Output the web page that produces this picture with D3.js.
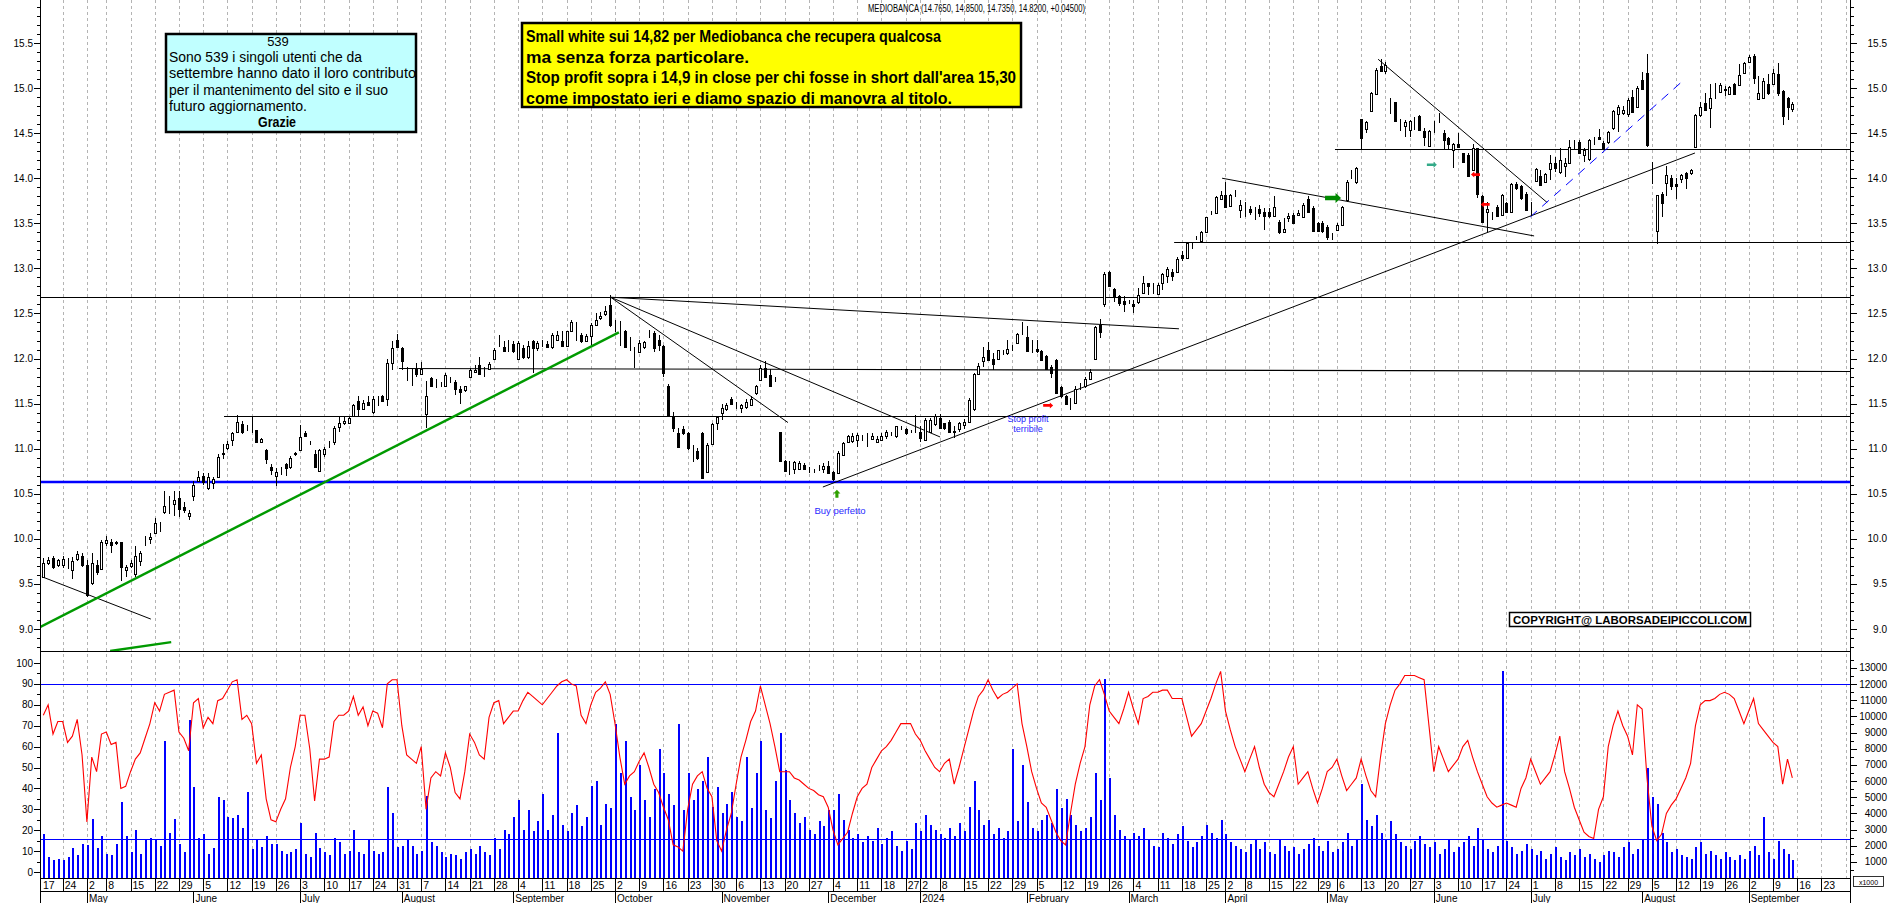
<!DOCTYPE html>
<html>
<head>
<meta charset="utf-8">
<script src="https://cdn.jsdelivr.net/npm/d3@7"></script>
<style>
  body { margin: 0; background: #fff; }
  svg { display: block; }
  text { font-family: "Liberation Sans", Arial, sans-serif; }
</style>
</head>
<body>
<svg id="chart" width="1890" height="903"></svg>
<script>
// ---- data ----
const firstDay = "2023-04-17";
const lastDay = "2024-10-04";
const holidays = ["2023-05-01", "2023-12-25", "2023-12-26", "2024-01-01", "2024-03-29", "2024-04-01", "2024-05-01"];
const monthNames = ["January", "February", "March", "April", "May", "June", "July", "August", "September", "October", "November", "December"];

// daily candles from 18 April 2023
const opens = [9.58,9.73,9.79,9.71,9.71,9.73,9.65,9.78,9.81,9.71,9.51,9.71,9.66,9.95,9.97,9.96,9.96,9.65,9.70,9.61,9.75,9.93,10.00,10.06,10.16,10.30,10.39,10.39,10.45,10.35,10.25,10.47,10.64,10.70,10.56,10.62,10.69,10.94,11.01,11.10,11.19,11.27,11.23,11.20,11.21,11.07,10.99,10.80,10.70,10.77,10.83,10.80,10.95,10.99,11.17,11.05,10.94,10.75,10.94,11.03,11.07,11.24,
11.28,11.28,11.36,11.53,11.44,11.52,11.41,11.57,11.58,11.55,11.95,12.21,12.12,11.87,11.85,11.88,11.83,11.39,11.78,11.73,11.71,11.70,11.76,11.74,11.66,11.65,11.80,11.85,11.93,11.82,11.88,11.99,12.15,12.13,12.09,12.16,12.00,12.12,12.02,12.20,12.12,12.16,12.16,12.13,12.21,12.19,12.14,12.30,12.30,12.26,12.19,12.25,12.37,12.45,12.49,12.59,12.31,12.24,12.31,12.15,12.05,12.07,12.13,
12.28,12.28,12.21,12.14,11.70,11.36,11.17,11.22,11.17,10.99,10.97,11.17,10.74,11.05,11.29,11.40,11.44,11.55,11.50,11.45,11.46,11.49,11.62,11.76,11.89,11.82,11.76,11.19,10.86,10.84,10.77,10.77,10.82,10.77,10.76,10.77,10.77,10.81,10.74,10.73,10.93,11.07,11.08,11.10,11.12,11.15,11.11,11.07,11.10,11.14,11.15,11.14,11.23,11.22,11.19,11.21,11.19,11.10,11.18,11.27,11.34,11.28,11.30,
11.19,11.22,11.26,11.30,
11.44,11.83,11.97,12.09,11.99,11.99,12.07,12.06,12.13,12.17,12.29,12.24,12.14,12.11,12.08,12.03,11.91,11.98,11.68,11.59,11.50,11.51,11.69,11.69,11.77,12.00,12.37,12.61,12.96,12.77,12.69,12.64,12.61,12.61,12.63,12.73,12.84,12.82,12.72,12.84,12.91,12.96,12.96,13.15,13.11,13.26,13.33,13.30,13.40,13.61,13.61,13.77,13.81,13.69,13.80,13.65,13.69,13.66,13.65,
13.66,13.63,13.63,13.58,13.52,13.40,13.56,13.59,13.59,13.57,13.77,13.67,13.50,13.50,13.46,13.35,13.43,13.48,13.76,14.01,13.96,14.66,14.55,14.75,14.93,15.25,15.19,14.84,14.85,14.65,14.58,14.54,14.68,14.69,14.52,14.36,14.52,14.63,14.50,14.45,14.31,14.38,14.28,14.26,14.09,14.33,13.80,13.62,13.58,13.68,13.59,13.72,13.63,13.94,13.91,13.83,13.71,13.97,14.02,13.96,14.10,14.17,14.07,
14.14,14.17,14.39,14.40,14.26,14.21,14.40,14.46,14.39,14.40,14.56,14.71,14.72,14.71,14.90,14.79,15.09,15.17,14.07,13.42,13.83,13.95,14.00,13.94,13.99,14.06,14.06,14.35,14.70,14.84,14.78,14.90,14.96,14.99,14.93,15.05,15.03,15.17,15.29,15.36,14.88,14.89,15.05,15.05,15.16,14.97,14.89,14.765];
const highs = [9.79,9.80,9.81,9.78,9.81,9.79,9.80,9.86,9.84,9.77,9.84,9.77,9.99,10.03,10.00,9.98,9.97,9.71,9.77,9.92,9.86,10.03,10.06,10.23,10.19,10.53,10.47,10.53,10.53,10.41,10.32,10.64,10.75,10.73,10.73,10.69,10.94,11.05,11.08,11.19,11.37,11.31,11.26,11.35,11.21,11.12,11.00,10.83,10.79,10.80,10.84,10.92,10.96,11.26,11.20,11.09,10.99,11.00,11.02,11.08,11.25,11.36,
11.36,11.36,11.50,11.58,11.54,11.58,11.58,11.58,11.60,11.99,12.19,12.27,12.13,11.91,11.89,11.95,11.96,11.75,11.80,11.77,11.74,11.84,11.80,11.76,11.69,11.70,11.89,11.93,12.02,11.91,11.96,12.12,12.26,12.19,12.21,12.19,12.19,12.15,12.19,12.21,12.19,12.21,12.19,12.28,12.30,12.30,12.31,12.43,12.41,12.28,12.27,12.39,12.50,12.52,12.58,12.70,12.43,12.42,12.32,12.24,12.13,12.21,12.20,
12.32,12.30,12.26,12.15,11.72,11.41,11.23,11.25,11.18,11.04,11.01,11.19,11.06,11.28,11.36,11.50,11.51,11.57,11.52,11.50,11.55,11.58,11.71,11.93,11.97,11.88,11.80,11.19,10.88,10.86,10.86,10.86,10.84,10.80,10.78,10.82,10.84,10.86,10.75,10.97,11.07,11.15,11.17,11.17,11.15,11.17,11.17,11.14,11.17,11.21,11.19,11.25,11.25,11.23,11.21,11.37,11.25,11.34,11.34,11.39,11.39,11.29,11.32,
11.25,11.30,11.33,11.56,
11.84,11.95,12.13,12.18,12.06,12.10,12.10,12.21,12.15,12.28,12.41,12.36,12.21,12.21,12.10,12.04,11.93,11.99,11.69,11.60,11.56,11.69,11.73,11.80,11.88,12.36,12.44,12.96,12.97,12.78,12.70,12.69,12.65,12.65,12.78,12.91,12.84,12.84,12.84,12.95,13.02,12.99,13.13,13.19,13.29,13.29,13.36,13.41,13.57,13.64,13.80,13.86,13.96,13.83,13.87,13.76,13.74,13.69,13.68,
13.70,13.67,13.67,13.80,13.54,13.56,13.61,13.61,13.65,13.72,13.80,13.69,13.52,13.53,13.48,13.39,13.50,13.69,13.98,14.09,14.12,14.66,14.63,14.96,15.22,15.32,15.29,14.89,14.85,14.66,14.65,14.65,14.68,14.70,14.56,14.54,14.63,14.72,14.54,14.46,14.39,14.50,14.28,14.28,14.38,14.34,13.81,13.74,13.63,13.70,13.83,13.74,13.95,13.96,13.93,13.85,13.74,14.11,14.09,14.06,14.26,14.24,14.34,
14.22,14.42,14.42,14.42,14.33,14.43,14.46,14.55,14.41,14.52,14.76,14.81,14.80,14.89,14.98,15.02,15.18,15.38,14.18,13.81,13.85,14.14,14.04,14.00,14.05,14.07,14.10,14.71,14.85,14.95,15.05,15.06,15.06,15.02,15.02,15.06,15.27,15.29,15.37,15.38,15.13,15.11,15.16,15.21,15.28,14.98,14.90,14.85];
const lows = [9.57,9.71,9.67,9.69,9.68,9.67,9.55,9.75,9.69,9.36,9.49,9.60,9.66,9.92,9.84,9.93,9.53,9.58,9.68,9.58,9.70,9.92,9.94,10.05,10.08,10.28,10.28,10.25,10.24,10.29,10.21,10.42,10.63,10.60,10.54,10.55,10.67,10.89,10.99,11.03,11.17,11.16,11.20,11.17,11.06,11.06,10.83,10.71,10.59,10.71,10.70,10.77,10.92,10.99,11.13,11.04,10.79,10.74,10.91,11.01,11.04,11.19,
11.26,11.28,11.35,11.36,11.43,11.47,11.38,11.47,11.52,11.47,11.87,12.12,11.87,11.75,11.69,11.80,11.82,11.23,11.68,11.67,11.68,11.69,11.73,11.60,11.50,11.63,11.78,11.84,11.82,11.80,11.87,11.98,12.13,12.07,12.07,12.06,11.98,12.00,12.00,11.84,12.08,12.13,12.12,12.11,12.19,12.13,12.13,12.29,12.19,12.17,12.18,12.15,12.36,12.43,12.47,12.35,12.29,12.14,12.13,12.08,11.89,12.06,12.11,
12.23,12.07,12.08,11.80,11.35,11.19,11.02,11.15,10.99,10.85,10.88,10.66,10.73,11.04,11.21,11.32,11.42,11.50,11.44,11.40,11.44,11.48,11.60,11.76,11.78,11.69,11.74,10.85,10.74,10.71,10.72,10.76,10.76,10.73,10.73,10.75,10.73,10.72,10.64,10.72,10.92,11.06,11.06,11.02,11.09,11.02,11.10,11.06,11.08,11.11,11.14,11.12,11.21,11.15,11.17,11.17,11.07,11.09,11.17,11.25,11.22,11.21,11.17,
11.12,11.18,11.22,11.28,
11.42,11.82,11.91,11.97,11.87,11.98,12.04,12.04,12.08,12.16,12.26,12.07,12.06,12.06,11.97,11.87,11.78,11.62,11.56,11.48,11.43,11.50,11.65,11.67,11.76,11.99,12.23,12.57,12.80,12.63,12.58,12.52,12.60,12.50,12.61,12.72,12.71,12.72,12.70,12.76,12.84,12.86,12.95,13.08,13.10,13.21,13.31,13.29,13.39,13.59,13.60,13.76,13.67,13.69,13.79,13.56,13.57,13.59,13.54,
13.57,13.43,13.56,13.57,13.38,13.39,13.52,13.49,13.58,13.56,13.62,13.40,13.40,13.39,13.32,13.32,13.43,13.47,13.74,13.99,13.94,14.31,14.50,14.74,14.92,15.18,15.16,14.71,14.63,14.52,14.46,14.46,14.53,14.53,14.36,14.35,14.50,14.61,14.31,14.31,14.11,14.33,14.17,14.01,14.08,13.78,13.50,13.40,13.54,13.57,13.58,13.61,13.61,13.87,13.76,13.64,13.58,13.96,13.91,13.95,13.98,14.07,14.05,
14.01,14.16,14.31,14.28,14.18,14.19,14.37,14.42,14.31,14.38,14.54,14.51,14.70,14.68,14.72,14.78,14.99,14.35,13.94,13.27,13.57,13.80,13.87,13.77,13.95,13.88,14.04,14.33,14.68,14.75,14.56,14.88,14.95,14.91,14.92,14.92,15.02,15.16,15.28,15.05,14.87,14.88,14.92,15.03,14.91,14.59,14.65,14.735];
const closes = [9.73,9.77,9.69,9.76,9.78,9.73,9.75,9.83,9.71,9.38,9.73,9.63,9.97,9.99,9.93,9.95,9.69,9.69,9.73,9.81,9.84,9.93,10.02,10.18,10.16,10.36,10.39,10.43,10.33,10.32,10.29,10.60,10.69,10.63,10.69,10.66,10.91,10.95,11.05,11.17,11.30,11.18,11.23,11.20,11.07,11.11,10.89,10.76,10.74,10.77,10.79,10.90,10.94,11.13,11.14,11.05,10.80,10.99,11.00,11.03,11.23,11.29,
11.31,11.34,11.49,11.44,11.51,11.48,11.55,11.57,11.53,11.95,12.12,12.13,11.97,11.87,11.85,11.83,11.88,11.59,11.70,11.73,11.71,11.82,11.76,11.66,11.63,11.69,11.87,11.87,11.83,11.82,11.94,12.10,12.15,12.08,12.09,12.08,12.17,12.02,12.14,12.12,12.17,12.16,12.13,12.26,12.26,12.14,12.30,12.40,12.30,12.19,12.25,12.37,12.43,12.47,12.53,12.37,12.31,12.24,12.13,12.15,12.05,12.17,12.18,
12.28,12.12,12.15,11.84,11.36,11.23,11.02,11.17,11.01,10.99,10.90,10.67,11.04,11.27,11.35,11.45,11.49,11.50,11.50,11.49,11.52,11.55,11.70,11.89,11.80,11.70,11.76,10.86,10.75,10.84,10.85,10.84,10.77,10.77,10.76,10.77,10.81,10.73,10.66,10.95,11.06,11.14,11.14,11.15,11.12,11.15,11.14,11.11,11.14,11.19,11.15,11.25,11.23,11.17,11.19,11.21,11.12,11.32,11.32,11.36,11.23,11.23,11.19,
11.20,11.28,11.30,11.54,
11.83,11.92,12.02,11.98,11.94,12.09,12.07,12.11,12.13,12.27,12.29,12.08,12.14,12.08,11.98,11.88,11.84,11.62,11.59,11.50,11.50,11.66,11.69,11.77,11.85,12.35,12.29,12.94,12.81,12.69,12.62,12.60,12.61,12.58,12.71,12.84,12.81,12.82,12.82,12.94,12.99,12.91,13.10,13.11,13.28,13.26,13.33,13.40,13.57,13.61,13.79,13.81,13.68,13.81,13.80,13.70,13.69,13.62,13.65,
13.61,13.58,13.58,13.68,13.40,13.44,13.58,13.50,13.61,13.70,13.63,13.41,13.41,13.41,13.35,13.35,13.48,13.68,13.96,14.01,14.11,14.45,14.62,14.94,15.20,15.19,15.26,14.84,14.64,14.65,14.62,14.63,14.68,14.54,14.46,14.52,14.52,14.63,14.42,14.38,14.38,14.35,14.18,14.03,14.34,13.83,13.52,13.66,13.58,13.58,13.81,13.62,13.94,13.89,13.78,13.65,13.71,14.10,13.93,14.05,14.17,14.11,14.20,
14.17,14.35,14.39,14.28,14.31,14.42,14.40,14.43,14.33,14.51,14.75,14.79,14.76,14.87,14.74,15.00,14.99,14.37,14.07,13.81,13.72,14.04,13.91,13.91,14.04,14.00,14.09,14.70,14.79,14.76,14.89,14.90,15.03,14.98,15.01,14.93,15.14,15.28,15.34,15.11,14.94,15.08,14.94,15.17,14.94,14.69,14.79,14.82];
// volume, thousands of shares
const volumes = [2.7,1.3,1.1,1.2,1.1,1.3,1.85,1.4,2.1,2.05,3.65,1.85,2.6,1.5,1.4,2.1,4.7,2.6,1.6,3.0,1.5,2.4,2.5,2.4,2.0,8.5,2.8,3.65,2.1,1.6,9.8,5.6,2.5,2.7,1.5,1.85,5.0,4.8,3.8,3.7,3.9,3.1,5.3,1.8,2.4,1.9,2.6,2.1,2.1,1.7,1.5,1.6,1.8,3.4,1.5,1.3,2.8,1.85,1.6,1.4,2.5,2.2,1.5,1.7,3.0,1.6,1.5,2.4,1.7,1.5,1.6,5.6,4.0,1.9,2.0,2.4,2.0,1.5,1.7,5.1,2.2,2.0,1.6,1.3,1.5,1.4,1.2,1.6,1.8,1.5,1.95,1.6,1.4,2.5,1.8,
3.0,2.7,3.8,4.8,3.0,4.2,2.9,3.5,5.2,3.0,3.9,9.0,3.3,2.9,4.0,4.5,3.2,3.8,5.7,6.0,3.3,4.6,4.3,
9.5,6.5,8.5,5.0,4.2,7.0,4.8,3.8,5.5,8.0,6.5,5.2,4.5,9.5,4.2,6.5,4.8,5.5,6.0,7.5,4.4,5.6,4.0,
4.6,5.3,3.8,3.5,7.5,4.3,6.5,8.5,4.2,3.7,6.0,9.0,6.7,4.8,4.0,3.4,3.8,3.0,2.7,3.5,3.2,4.2,
4.2,5.2,3.6,3.0,2.5,2.7,2.2,2.6,2.3,3.1,2.1,2.5,2.9,2.0,1.7,2.3,1.8,3.4,2.9,3.9,3.3,3.0,2.7,2.5,3.1,
2.6,3.4,2.9,4.4,6.0,4.2,3.3,3.6,2.7,3.1,2.5,2.9,8.0,3.5,7.0,4.7,3.1,2.9,3.6,3.9,3.4,5.5,4.3,4.9,3.9,3.3,2.9,3.1,3.8,
6.5,4.8,12.3,6.2,3.9,3.0,2.6,2.4,2.8,
2.6,3.1,2.4,2.0,1.9,2.8,2.5,2.1,2.7,3.2,2.3,1.9,2.2,2.6,3.3,2.8,2.5,3.6,2.7,2.2,2.0,1.8,1.6,2.1,2.4,
1.8,2.2,1.6,1.5,2.4,2.0,1.7,1.9,1.5,1.8,2.1,2.5,2.0,1.7,2.3,1.6,1.8,2.2,2.8,2.0,2.4,
5.8,3.6,3.2,3.9,2.8,2.4,3.5,2.7,2.2,2.0,1.8,2.3,2.6,2.1,1.9,2.2,
1.5,1.8,2.4,1.6,1.9,2.2,2.6,2.0,3.1,2.4,1.8,1.6,2.0,12.8,2.3,1.9,1.5,1.7,2.1,1.8,
1.4,1.7,1.2,1.5,1.9,1.3,1.1,1.6,1.4,1.8,1.3,1.5,1.2,1.0,1.4,1.7,1.6,1.3,1.9,2.2,1.5,1.8,2.4,
6.8,5.0,4.6,2.8,2.2,1.6,1.8,1.4,1.3,1.2,1.9,2.2,1.5,1.7,1.4,1.2,1.6,1.3,1.1,1.4,1.2,1.7,
2.0,1.4,3.8,1.6,1.2,2.3,1.8,1.5,1.1];
// oscillator, 0-100
const oscillator = [75,80,66,72,72,62,65,73,56,24,55,48,66,67,61,62,40,41,48,54,57,64,71,81,77,85,86,87,67,64,58,81,83,69,74,71,82,83,87,91,92,73,75,71,52,56,35,25,24,30,35,50,60,75,75,59,34,54,54,55,72,75,75,77,84,75,79,70,77,76,69,90,92,92,70,56,54,52,60,30,45,48,46,57,50,38,35,48,66,62,56,54,74,81,82,
71,74,77,77,82,86,84,82,80,83,86,89,91,92,90,89,
75,71,80,86,88,91,85,71,55,42,46,48,53,57,50,42,38,31,25,13,
12,10,30,42,46,48,40,36,15,10,20,28,42,55,63,72,77,89,80,71,
60,48,48,48,45,44,42,40,39,37,36,31,20,13,16,19,28,36,40,42,
50,54,58,60,63,67,71,71,71,66,63,58,54,50,48,52,54,42,50,59,
68,77,84,87,92,87,83,85,86,88,90,71,60,48,40,33,31,25,19,15,
13,28,42,52,60,80,89,92,85,77,74,71,78,86,78,71,83,84,86,86,
87,87,83,83,83,74,65,68,71,77,83,90,96,77,68,60,54,48,54,60,
50,42,38,36,42,48,55,60,42,45,48,40,33,40,48,50,54,46,39,42,
45,54,46,39,36,55,71,80,87,90,94,94,94,93,92,70,48,60,54,48,
51,54,60,63,55,48,42,36,33,31,32,33,32,31,40,45,54,48,42,45,
48,56,65,48,40,31,25,19,17,16,30,36,60,70,77,70,65,56,80,78,
45,22,15,18,28,32,35,40,45,52,70,80,82,82,83,85,86,85,83,77,
71,77,83,71,68,65,62,60,42,54,45];

const priceTicks = d3.range(9, 15.51, 0.5);
const oscTicks = d3.range(0, 101, 10);
const volTicks = d3.range(1000, 13001, 1000);
const oscLevels = [90, 16];

// level lines: [from candle, price at start, to candle, price at end]
const levelLines = [
  [266.6, 14.32, 373, 14.32],
  [233.4, 13.29, 373, 13.29],
  [-1, 12.68, 373, 12.68],
  [73.4, 11.89, 373, 11.86],
  [37.3, 11.36, 373, 11.36]
];
const supportLevel = 10.63;
const trendLines = [
  [117.1, 12.68, 234.4, 12.33],
  [117.1, 12.68, 153.7, 11.29],
  [117.1, 12.68, 185.1, 11.13],
  [160.9, 10.575, 340.9, 14.28],
  [243.3, 14.00, 307.7, 13.36],
  [275.5, 15.32, 310.4, 13.73],
  [-0.3, 9.58, 22.2, 9.11]
];
const greenLines = [
  [-0.7, 9.02, 118.8, 12.29],
  [13.8, 8.756, 26.4, 8.855]
];
const dashedBlue = [306.9, 13.57, 338.6, 15.09];
// arrows: [candle, price, angle (0 = right), length, height, colour]
const arrows = [
  [163.8, 10.50, -90, 8, 7, "#2fa000"],
  [207.4, 11.48, 0, 10, 6, "#ff0000"],
  [266.2, 13.78, 0, 16, 10, "#008a00"],
  [286.6, 14.15, 0, 10, 6, "#33aa88"],
  [295.6, 14.04, 180, 9, 6, "#ff0000"],
  [297.6, 13.71, 180, 9, 6, "#ff0000"]
];

const yellowLines = [
  "Small white sui 14,82 per Mediobanca che recupera qualcosa",
  "ma senza forza particolare.",
  "Stop profit sopra i 14,9 in close per chi fosse in short dall'area 15,30",
  "come impostato ieri e diamo spazio di manovra al titolo."
];
const yellowWidths = [415, 223, 490, 426];
const cyanLines = [
  "Sono 539 i singoli utenti che da",
  "settembre hanno dato il loro contributo",
  "per il mantenimento  del sito e il suo",
  "futuro aggiornamento."
];
const cyanWidths = [193, 247, 219, 138];

// ---- layout ----
const L = 40, R = 1850;
const pTop = 0, pBottom = 651, oBottom = 878;
const svg = d3.select("#chart");

const fmt = d3.timeFormat("%Y-%m-%d");
const days = [];
for (let d = d3.timeParse("%Y-%m-%d")(firstDay); d <= d3.timeParse("%Y-%m-%d")(lastDay); d = d3.timeDay.offset(d, 1)) {
  const wd = d.getDay();
  if (wd === 0 || wd === 6 || holidays.includes(fmt(d))) continue;
  days.push(d);
}
const xd = d3.scaleLinear().domain([0, 1]).range([38.455, 38.455 + 4.845]); // by trading day
const xc = i => xd(i + 1);                                                    // by candle
const y = d3.scaleLinear().domain([9, 15.5]).range([629, 43]);
const yo = d3.scaleLinear().domain([0, 100]).range([872, 663]);
const yv = d3.scaleLinear().domain([0, 12000]).range([878, 684]);

const defs = svg.append("defs");
defs.append("clipPath").attr("id", "cp").append("rect").attr("x", L).attr("y", pTop).attr("width", R - L).attr("height", pBottom - pTop);
defs.append("clipPath").attr("id", "co").append("rect").attr("x", L).attr("y", pBottom).attr("width", R - L).attr("height", oBottom - pBottom);

// week grid
const weeks = [], months = [];
days.forEach((d, j) => {
  if (j === 0 || d3.timeMonday.floor(d) > days[j - 1]) weeks.push(j);
  if (j > 0 && d.getMonth() !== days[j - 1].getMonth()) months.push(j);
});
svg.append("g").selectAll("line").data(weeks.filter(j => xd(j) > L + 1 && xd(j) < R)).join("line")
  .attr("x1", j => Math.round(xd(j)) + 0.5).attr("x2", j => Math.round(xd(j)) + 0.5)
  .attr("y1", 0).attr("y2", oBottom)
  .attr("stroke", "#b4b4b4").attr("stroke-dasharray", "3,3");

// price panel
const gp = svg.append("g").attr("clip-path", "url(#cp)");
const px = v => Math.round(v) + 0.5;
gp.selectAll(".lvl").data(levelLines).join("line")
  .attr("x1", d => xc(d[0])).attr("y1", d => px(y(d[1])))
  .attr("x2", d => xc(d[2])).attr("y2", d => px(y(d[3])))
  .attr("stroke", "#000").attr("stroke-width", 1.2);
gp.append("line").attr("x1", L).attr("x2", R).attr("y1", y(supportLevel)).attr("y2", y(supportLevel))
  .attr("stroke", "#0000ff").attr("stroke-width", 2.4);
gp.selectAll(".tl").data(trendLines).join("line")
  .attr("x1", d => xc(d[0])).attr("y1", d => y(d[1]))
  .attr("x2", d => xc(d[2])).attr("y2", d => y(d[3]))
  .attr("stroke", "#000").attr("stroke-width", 1);
gp.selectAll(".gl").data(greenLines).join("line")
  .attr("x1", d => xc(d[0])).attr("y1", d => y(d[1]))
  .attr("x2", d => xc(d[2])).attr("y2", d => y(d[3]))
  .attr("stroke", "#009a00").attr("stroke-width", 2.4);
gp.append("line")
  .attr("x1", xc(dashedBlue[0])).attr("y1", y(dashedBlue[1]))
  .attr("x2", xc(dashedBlue[2])).attr("y2", y(dashedBlue[3]))
  .attr("stroke", "#0000ff").attr("stroke-width", 1).attr("stroke-dasharray", "9,7");

// candles
const candles = closes.map((c, i) => ({ i, o: opens[i], h: highs[i], l: lows[i], c }));
const cg = gp.append("g").attr("shape-rendering", "crispEdges");
cg.selectAll(".wick").data(candles).join("line")
  .attr("x1", d => Math.round(xc(d.i)) + 0.5).attr("x2", d => Math.round(xc(d.i)) + 0.5)
  .attr("y1", d => y(d.h)).attr("y2", d => y(d.l))
  .attr("stroke", "#000");
cg.selectAll(".body").data(candles).join("rect")
  .attr("x", d => Math.round(xc(d.i)) - 0.5)
  .attr("width", 2)
  .attr("y", d => Math.round(y(Math.max(d.o, d.c))) + 0.5)
  .attr("height", d => Math.max(0, Math.round(y(Math.min(d.o, d.c))) - Math.round(y(Math.max(d.o, d.c)))))
  .attr("fill", d => d.c >= d.o ? "#fff" : "#000")
  .attr("stroke", "#000");

// arrows
function arrowPath(len, h) {
  const a = len / 2, hw = h / 2, s = h * 0.22, hx = a - h * 0.55;
  return `M${-a},${-s}L${hx},${-s}L${hx},${-hw}L${a},0L${hx},${hw}L${hx},${s}L${-a},${s}Z`;
}
gp.selectAll(".arr").data(arrows).join("path")
  .attr("d", d => arrowPath(d[3], d[4]))
  .attr("transform", d => `translate(${xc(d[0])},${y(d[1])}) rotate(${d[2]})`)
  .attr("fill", d => d[5]);

// annotations
const blueText = "#2a2aff";
gp.append("text").attr("x", 840).attr("y", 514).attr("text-anchor", "middle")
  .attr("font-size", 9.5).attr("fill", blueText).text("Buy perfetto");
gp.append("text").attr("x", 1028).attr("y", 422).attr("text-anchor", "middle")
  .attr("font-size", 9).attr("fill", blueText).text("Stop profit");
gp.append("text").attr("x", 1028).attr("y", 432).attr("text-anchor", "middle")
  .attr("font-size", 9).attr("fill", blueText).text("terribile");

// title
svg.append("text").attr("x", 868).attr("y", 12).attr("font-size", 10)
  .attr("textLength", 217).attr("lengthAdjust", "spacingAndGlyphs")
  .text("MEDIOBANCA (14.7650, 14.8500, 14.7350, 14.8200, +0.04500)");

// yellow comment box
svg.append("rect").attr("x", 522).attr("y", 23).attr("width", 499).attr("height", 84)
  .attr("fill", "#ffff00").attr("stroke", "#000").attr("stroke-width", 2.5);
svg.append("g").selectAll("text").data(yellowLines).join("text")
  .attr("x", 526).attr("y", (d, k) => 42 + k * 20.6)
  .attr("font-size", 16).attr("font-weight", "bold")
  .attr("textLength", (d, k) => yellowWidths[k]).attr("lengthAdjust", "spacingAndGlyphs")
  .text(d => d);

// cyan thank-you box
svg.append("rect").attr("x", 166).attr("y", 34).attr("width", 250).attr("height", 98)
  .attr("fill", "#c0ffff").attr("stroke", "#000").attr("stroke-width", 2.5);
svg.append("text").attr("x", 278).attr("y", 46).attr("text-anchor", "middle").attr("font-size", 13).text("539");
svg.append("g").selectAll("text").data(cyanLines).join("text")
  .attr("x", 169).attr("y", (d, k) => 62 + k * 16.3)
  .attr("font-size", 14)
  .attr("textLength", (d, k) => cyanWidths[k]).attr("lengthAdjust", "spacingAndGlyphs")
  .text(d => d);
svg.append("text").attr("x", 277).attr("y", 127).attr("text-anchor", "middle")
  .attr("font-size", 14).attr("font-weight", "bold").attr("textLength", 38).attr("lengthAdjust", "spacingAndGlyphs").text("Grazie");

// copyright box
svg.append("rect").attr("x", 1509.5).attr("y", 612.5).attr("width", 241).attr("height", 14)
  .attr("fill", "#fff").attr("stroke", "#000").attr("stroke-width", 1.5);
svg.append("text").attr("x", 1630).attr("y", 623.5).attr("text-anchor", "middle")
  .attr("font-size", 10.5).attr("font-weight", "bold")
  .attr("textLength", 234).attr("lengthAdjust", "spacingAndGlyphs")
  .text("COPYRIGHT@ LABORSADEIPICCOLI.COM");

// lower panel
const go = svg.append("g").attr("clip-path", "url(#co)");
go.append("g").attr("shape-rendering", "crispEdges").selectAll("rect").data(volumes).join("rect")
  .attr("x", (v, i) => Math.round(xc(i)))
  .attr("width", 2)
  .attr("y", v => yv(v * 1000))
  .attr("height", v => oBottom - yv(v * 1000))
  .attr("fill", "#0000ff");
go.selectAll(".ol").data(oscLevels).join("line")
  .attr("x1", L).attr("x2", R).attr("y1", d => px(yo(d))).attr("y2", d => px(yo(d)))
  .attr("stroke", "#0000ff");
go.append("path").datum(oscillator)
  .attr("d", d3.line().x((v, i) => xc(i)).y(v => yo(v)))
  .attr("fill", "none").attr("stroke", "#ff0000").attr("stroke-width", 1.1);

// frame
const frame = svg.append("g").attr("stroke", "#000").attr("shape-rendering", "crispEdges");
frame.append("line").attr("x1", L + 0.5).attr("x2", L + 0.5).attr("y1", 0).attr("y2", 903);
frame.append("line").attr("x1", R + 0.5).attr("x2", R + 0.5).attr("y1", 0).attr("y2", 903);
frame.append("line").attr("x1", L).attr("x2", R).attr("y1", pBottom + 0.5).attr("y2", pBottom + 0.5).attr("stroke-width", 1.4);
frame.append("line").attr("x1", L).attr("x2", R).attr("y1", oBottom + 0.5).attr("y2", oBottom + 0.5);
frame.append("line").attr("x1", L).attr("x2", R).attr("y1", 891.5).attr("y2", 891.5);

// price axis ticks + labels, both sides
const minorP = d3.range(9, 15.95, 0.1).concat(d3.range(8.8, 9, 0.1));
frame.selectAll(".mpl").data(minorP).join("line")
  .attr("x1", L - 3).attr("x2", L).attr("y1", d => px(y(d))).attr("y2", d => px(y(d)));
frame.selectAll(".mpr").data(minorP).join("line")
  .attr("x1", R).attr("x2", R + 4).attr("y1", d => px(y(d))).attr("y2", d => px(y(d)));
frame.selectAll(".Mpl").data(priceTicks).join("line")
  .attr("x1", L - 6).attr("x2", L).attr("y1", d => px(y(d))).attr("y2", d => px(y(d)));
frame.selectAll(".Mpr").data(priceTicks).join("line")
  .attr("x1", R).attr("x2", R + 7).attr("y1", d => px(y(d))).attr("y2", d => px(y(d)));
const lab = svg.append("g").attr("font-size", 10).attr("fill", "#000");
lab.selectAll(".pl").data(priceTicks).join("text")
  .attr("x", 33).attr("y", d => y(d) + 3.5).attr("text-anchor", "end").text(d => d.toFixed(1));
lab.selectAll(".pr").data(priceTicks).join("text")
  .attr("x", 1887).attr("y", d => y(d) + 3.5).attr("text-anchor", "end").text(d => d.toFixed(1));

// oscillator / volume ticks + labels
frame.selectAll(".mol").data(d3.range(5, 100, 10)).join("line")
  .attr("x1", L - 3).attr("x2", L).attr("y1", d => px(yo(d))).attr("y2", d => px(yo(d)));
frame.selectAll(".Mol").data(oscTicks).join("line")
  .attr("x1", L - 6).attr("x2", L).attr("y1", d => px(yo(d))).attr("y2", d => px(yo(d)));
frame.selectAll(".mvr").data(d3.range(500, 13600, 1000)).join("line")
  .attr("x1", R).attr("x2", R + 4).attr("y1", d => px(yv(d))).attr("y2", d => px(yv(d)));
frame.selectAll(".Mvr").data(volTicks).join("line")
  .attr("x1", R).attr("x2", R + 7).attr("y1", d => px(yv(d))).attr("y2", d => px(yv(d)));
lab.selectAll(".ol").data(oscTicks).join("text")
  .attr("x", 33).attr("y", d => yo(d) + 3.5).attr("text-anchor", "end").text(d => d);
lab.selectAll(".vr").data(volTicks).join("text")
  .attr("x", 1887).attr("y", d => yv(d) + 3.5).attr("text-anchor", "end").text(d => d);
svg.append("rect").attr("x", 1853.5).attr("y", 876.5).attr("width", 30).attr("height", 10)
  .attr("fill", "#fff").attr("stroke", "#000").attr("stroke-width", 0.8);
svg.append("text").attr("x", 1868.5).attr("y", 884.5).attr("text-anchor", "middle").attr("font-size", 7).text("x1000");

// date axis
const wk = weeks.filter(j => xd(j) < 1840);
frame.selectAll(".wt").data(wk.filter(j => xd(j) > L)).join("line")
  .attr("x1", j => Math.round(xd(j)) + 0.5).attr("x2", j => Math.round(xd(j)) + 0.5)
  .attr("y1", oBottom).attr("y2", 891);
lab.selectAll(".wl").data(wk).join("text")
  .attr("x", j => Math.max(L + 1, xd(j)) + 2).attr("y", 889).attr("font-size", 10.5)
  .text(j => days[j].getDate());
const mo = months.filter(j => xd(j) < 1840);
frame.selectAll(".mt").data(mo).join("line")
  .attr("x1", j => Math.round(xd(j)) + 0.5).attr("x2", j => Math.round(xd(j)) + 0.5)
  .attr("y1", 891).attr("y2", 903);
lab.selectAll(".ml").data(mo).join("text")
  .attr("x", j => xd(j) + 2).attr("y", 901.5)
  .text(j => days[j].getMonth() === 0 ? String(days[j].getFullYear()) : monthNames[days[j].getMonth()]);
</script>
</body>
</html>
